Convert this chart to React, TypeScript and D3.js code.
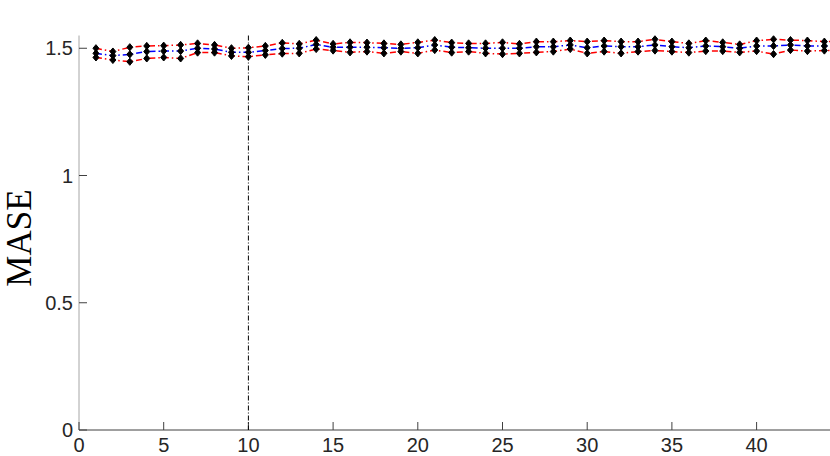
import React from "react";
import * as d3 from "d3";

const xs = [1,2,3,4,5,6,7,8,9,10,11,12,13,14,15,16,17,18,19,20,21,22,23,24,25,26,27,28,29,30,31,32,33,34,35,36,37,38,39,40,41,42,43,44,45];
const upper = [1.500,1.487,1.504,1.509,1.510,1.513,1.519,1.513,1.500,1.502,1.509,1.521,1.517,1.532,1.517,1.523,1.522,1.519,1.515,1.523,1.532,1.522,1.519,1.519,1.523,1.517,1.526,1.526,1.530,1.526,1.530,1.526,1.526,1.535,1.526,1.519,1.530,1.523,1.515,1.530,1.535,1.532,1.530,1.526,1.527];
const mean = [1.480,1.471,1.476,1.487,1.489,1.489,1.500,1.497,1.484,1.484,1.491,1.499,1.500,1.515,1.504,1.504,1.504,1.502,1.500,1.502,1.513,1.504,1.502,1.500,1.500,1.500,1.506,1.506,1.513,1.502,1.509,1.506,1.506,1.513,1.506,1.502,1.509,1.506,1.500,1.509,1.509,1.513,1.509,1.509,1.509];
const lower = [1.464,1.454,1.447,1.460,1.464,1.460,1.483,1.483,1.470,1.467,1.474,1.479,1.480,1.497,1.491,1.484,1.487,1.480,1.487,1.480,1.493,1.483,1.487,1.480,1.477,1.480,1.484,1.487,1.497,1.480,1.487,1.480,1.487,1.491,1.487,1.483,1.489,1.489,1.484,1.489,1.477,1.493,1.489,1.491,1.492];
const xTicks = [0,5,10,15,20,25,30,35,40,45];
const yTicks = [0,0.5,1,1.5];
const yTickLabels = ["0","0.5","1","1.5"];
const splitAt = 10;

export default function App() {
  const W = 830, H = 456;
  const x = d3.scaleLinear().domain([0, 50]).range([79, 79 + 50 * 16.94]);
  const y = d3.scaleLinear().domain([0, 1.55]).range([430, 430 - 1.55 * 254.5]);
  const line = d3.line<number>().x((_, i) => x(xs[i])).y((d) => y(d));
  const diamond = (cx: number, cy: number) =>
    `M${cx},${cy - 3.6}L${cx + 3},${cy}L${cx},${cy + 3.6}L${cx - 3},${cy}Z`;
  const series = [
    { vals: upper, color: "#ff0000" },
    { vals: lower, color: "#ff0000" },
    { vals: mean, color: "#0000ff" },
  ];
  const tickColor = "#262626";
  return (
    <svg width={W} height={H} style={{ position: "absolute", left: 0, top: 0, background: "#fff" }}
      fontFamily="'Liberation Sans', Arial, sans-serif">
      <rect x={0} y={0} width={W} height={H} fill="#fff" />
      {/* axes */}
      <line x1={x(0)} x2={x(0)} y1={y(1.55)} y2={y(0)} stroke="#a6a6a6" strokeWidth={1} />
      <line x1={x(0)} x2={W} y1={y(0)} y2={y(0)} stroke="#404040" strokeWidth={1} />
      {yTicks.map((t, i) => (
        <g key={"y" + t}>
          <line x1={x(0)} x2={x(0) + 8} y1={y(t)} y2={y(t)} stroke="#404040" strokeWidth={1} />
          <text x={x(0) - 6} y={y(t)} dy="0.36em" textAnchor="end" fontSize={20} fill={tickColor}>{yTickLabels[i]}</text>
        </g>
      ))}
      {xTicks.map((t) => (
        <g key={"x" + t}>
          <line x1={x(t)} x2={x(t)} y1={y(0)} y2={y(0) - 8} stroke="#404040" strokeWidth={1} />
          <text x={x(t)} y={452} textAnchor="middle" fontSize={20} fill={tickColor}>{t}</text>
        </g>
      ))}
      {/* vertical split line */}
      <line x1={x(splitAt)} x2={x(splitAt)} y1={y(1.55)} y2={y(0)} stroke="#000" strokeWidth={1} strokeDasharray="5,2,1,2" />
      {/* series */}
      {series.map((s, i) => (
        <path key={"s" + i} d={line(s.vals) || ""} fill="none" stroke={s.color} strokeWidth={1.5} strokeDasharray="6,3,1.5,3" />
      ))}
      {series.map((s, i) => (
        <g key={"m" + i}>
          {s.vals.map((v, j) => (
            <path key={j} d={diamond(x(xs[j]), y(v))} fill="#000" stroke="#000" strokeWidth={1} />
          ))}
        </g>
      ))}
      {/* y label */}
      <text transform={`translate(31,238) rotate(-90)`} textAnchor="middle" fontSize={35}
        fontFamily="'Liberation Serif', 'Times New Roman', serif" fill="#000">MASE</text>
    </svg>
  );
}
